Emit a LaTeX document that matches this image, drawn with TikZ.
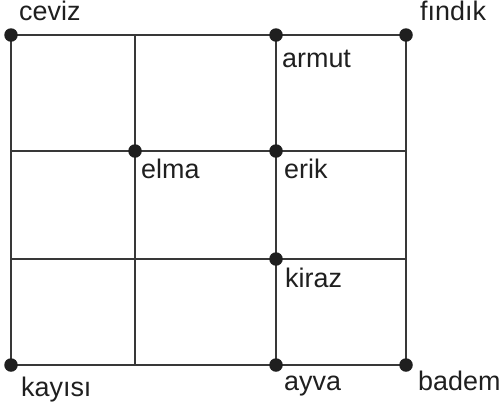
\documentclass[tikz,border=0pt]{standalone}
\usepackage{fontspec}
\setmainfont{Liberation Sans}
\usetikzlibrary{positioning}

\begin{document}
\begin{tikzpicture}[x=1bp,y=-1bp,
        spot/.style={circle,fill=black!88,inner sep=0pt,minimum size=13.5bp},
        fruit/.style={anchor=base west,inner sep=0pt,text=black!88,font=\fontsize{27}{32}\selectfont}]
        \useasboundingbox (0,0) rectangle (501,410);
        \coordinate (ceviz) at (11,35);
        \coordinate [right = 265bp of ceviz] (armut);
        \coordinate [right = 395bp of ceviz] (findik);
        \coordinate [below right = 116bp and 124bp of ceviz] (elma);
        \coordinate [below = 116bp of armut] (erik);
        \coordinate [below = 224bp of armut] (kiraz);
        \coordinate [below = 330bp of ceviz] (kayisi);
        \coordinate [below = 330bp of armut] (ayva);
        \coordinate [below = 330bp of findik] (badem);
        \draw [black!78,line width=1.3bp] (ceviz) rectangle (badem);
        \draw [black!78,line width=1.3bp] (elma |- ceviz) -- (elma |- kayisi);
        \draw [black!78,line width=1.3bp] (armut) -- (ayva);
        \draw [black!78,line width=1.3bp] (ceviz |- elma) -- (findik |- elma);
        \draw [black!78,line width=1.3bp] (ceviz |- kiraz) -- (findik |- kiraz);
        \foreach \p in {ceviz,armut,findik,elma,erik,kiraz,kayisi,ayva,badem}
            \node [spot] at (\p) {};
        \node [fruit] (t_ceviz)  at ([shift={(8,-15)}]ceviz)   {ceviz};
        \node [fruit] (t_findik) at ([shift={(14,-15)}]findik) {fındık};
        \node [fruit] (t_armut)  at ([shift={(6,32)}]armut)    {armut};
        \node [fruit] (t_elma)   at ([shift={(6,27)}]elma)     {elma};
        \node [fruit] (t_erik)   at ([shift={(8,27)}]erik)     {erik};
        \node [fruit] (t_kiraz)  at ([shift={(9,28)}]kiraz)    {kiraz};
        \node [fruit] (t_kayisi) at ([shift={(10,31)}]kayisi)  {kayısı};
        \node [fruit] (t_ayva)   at ([shift={(8,25)}]ayva)     {ayva};
        \node [fruit] (t_badem)  at ([shift={(12,25)}]badem)   {badem};
    \end{tikzpicture}
\end{document}
